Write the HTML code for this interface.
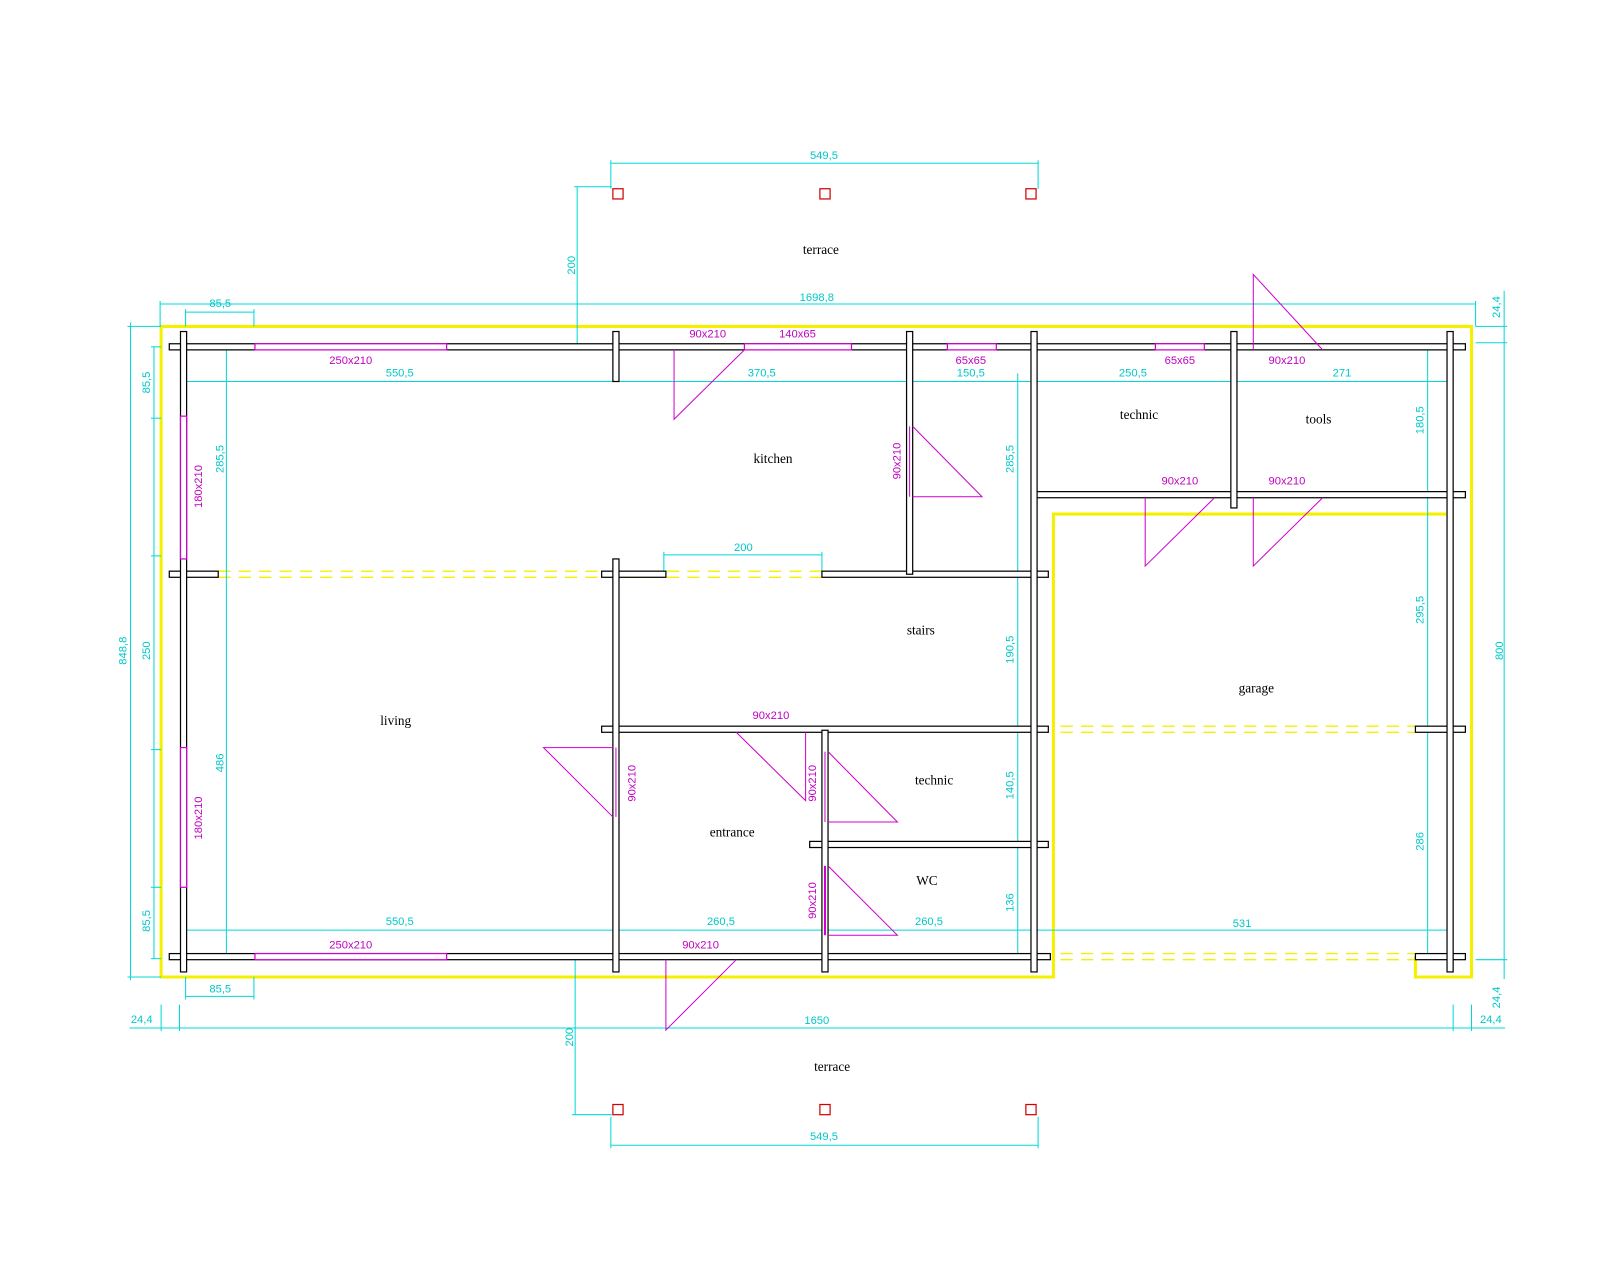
<!DOCTYPE html>
<html><head><meta charset="utf-8"><style>
html,body{margin:0;padding:0;background:#fff;}
svg{display:block;}
.w{fill:#fff;stroke:#000;stroke-width:1.2;}
.m{stroke:#d000d0;stroke-width:1;fill:none;}
.mw{fill:#fff;stroke:#d000d0;stroke-width:1.2;}
.c{stroke:#00d8d8;stroke-width:1;fill:none;}
.y{stroke:#f4f000;stroke-width:3;fill:none;}
.yd{stroke:#f4f000;stroke-width:1.3;stroke-dasharray:12,8;fill:none;}
.ct{fill:#00c8c8;font:11px "Liberation Sans",sans-serif;text-anchor:middle;}
.mt{fill:#c000c0;font:11px "Liberation Sans",sans-serif;text-anchor:middle;}
.rt{fill:#000;font:13px "Liberation Serif",serif;text-anchor:middle;}
.p{fill:#fff;stroke:#d00000;stroke-width:1.2;}
</style></head><body>
<svg width="1600" height="1280" viewBox="0 0 1569 1255" xmlns="http://www.w3.org/2000/svg">
<!-- yellow outline -->
<polyline class="y" points="1388,938 1388,958 1443,958 1443,320 158,320 158,958 1033,958 1033,504 1418,504"/>
<!-- dashed yellow -->
<line class="yd" x1="214" y1="560" x2="806" y2="560"/><line class="yd" x1="214" y1="566" x2="806" y2="566"/>
<line class="yd" x1="1040" y1="712" x2="1388" y2="712"/><line class="yd" x1="1040" y1="718" x2="1388" y2="718"/>
<line class="yd" x1="1040" y1="935" x2="1388" y2="935"/><line class="yd" x1="1040" y1="941" x2="1388" y2="941"/>
<!-- cyan dimensions -->
<g class="c">
<line x1="599" y1="160" x2="1018" y2="160"/><line x1="599" y1="157" x2="599" y2="185"/><line x1="1018" y1="157" x2="1018" y2="185"/>
<line x1="566" y1="183" x2="566" y2="340"/><line x1="563" y1="183" x2="600" y2="183"/>
<line x1="157" y1="298" x2="1447" y2="298"/><line x1="157" y1="295" x2="157" y2="320"/><line x1="1447" y1="295" x2="1447" y2="320"/>
<line x1="182" y1="306" x2="249" y2="306"/><line x1="182" y1="303" x2="182" y2="320"/><line x1="249" y1="303" x2="249" y2="320"/>
<line x1="1475" y1="285" x2="1475" y2="960"/><line x1="1447" y1="320" x2="1478" y2="320"/><line x1="1447" y1="336" x2="1478" y2="336"/><line x1="1447" y1="941" x2="1478" y2="941"/>
<line x1="183" y1="374" x2="1422" y2="374"/>
<line x1="128" y1="316" x2="128" y2="961"/><line x1="125" y1="320" x2="158" y2="320"/><line x1="125" y1="958" x2="158" y2="958"/>
<line x1="151" y1="340" x2="151" y2="940"/>
<line x1="148" y1="410" x2="158" y2="410"/><line x1="148" y1="545" x2="158" y2="545"/><line x1="148" y1="735" x2="158" y2="735"/><line x1="148" y1="870" x2="158" y2="870"/><line x1="148" y1="340" x2="158" y2="340"/><line x1="148" y1="940" x2="158" y2="940"/>
<line x1="222" y1="340" x2="222" y2="940"/>
<line x1="998" y1="366" x2="998" y2="940"/>
<line x1="1400" y1="340" x2="1400" y2="940"/>
<line x1="183" y1="912" x2="1419" y2="912"/>
<line x1="651" y1="544" x2="806" y2="544"/><line x1="651" y1="541" x2="651" y2="560"/><line x1="806" y1="541" x2="806" y2="560"/>
<line x1="182" y1="977" x2="249" y2="977"/><line x1="182" y1="958" x2="182" y2="980"/><line x1="249" y1="958" x2="249" y2="980"/>
<line x1="127" y1="1008" x2="1476" y2="1008"/><line x1="158" y1="985" x2="158" y2="1011"/><line x1="176" y1="985" x2="176" y2="1011"/><line x1="1425" y1="985" x2="1425" y2="1011"/><line x1="1443" y1="985" x2="1443" y2="1011"/>
<line x1="564" y1="940" x2="564" y2="1093"/><line x1="561" y1="1093" x2="600" y2="1093"/>
<line x1="599" y1="1123" x2="1018" y2="1123"/><line x1="599" y1="1095" x2="599" y2="1126"/><line x1="1018" y1="1095" x2="1018" y2="1126"/>
</g>
<g class="ct">
<text x="808" y="156">549,5</text>
<text x="801" y="295">1698,8</text>
<text x="216" y="301">85,5</text>
<text x="392" y="369">550,5</text><text x="747" y="369">370,5</text><text x="952" y="369">150,5</text><text x="1111" y="369">250,5</text><text x="1316" y="369">271</text>
<text x="729" y="540">200</text>
<text x="392" y="907">550,5</text><text x="707" y="907">260,5</text><text x="911" y="907">260,5</text><text x="1218" y="909">531</text>
<text x="216" y="973">85,5</text>
<text x="801" y="1004">1650</text><text x="139" y="1003">24,4</text><text x="1462" y="1003">24,4</text>
<text x="808" y="1118">549,5</text>
<text transform="translate(564,260) rotate(-90)">200</text>
<text transform="translate(562,1017) rotate(-90)">200</text>
<text transform="translate(1471,301) rotate(-90)">24,4</text>
<text transform="translate(1471,978) rotate(-90)">24,4</text>
<text transform="translate(124,638) rotate(-90)">848,8</text>
<text transform="translate(147,375) rotate(-90)">85,5</text>
<text transform="translate(147,638) rotate(-90)">250</text>
<text transform="translate(147,903) rotate(-90)">85,5</text>
<text transform="translate(219,450) rotate(-90)">285,5</text>
<text transform="translate(219,748) rotate(-90)">486</text>
<text transform="translate(994,450) rotate(-90)">285,5</text>
<text transform="translate(994,637) rotate(-90)">190,5</text>
<text transform="translate(994,770) rotate(-90)">140,5</text>
<text transform="translate(994,885) rotate(-90)">136</text>
<text transform="translate(1396,412) rotate(-90)">180,5</text>
<text transform="translate(1396,598) rotate(-90)">295,5</text>
<text transform="translate(1396,825) rotate(-90)">286</text>
<text transform="translate(1474,638) rotate(-90)">800</text>
</g>
<!-- walls -->
<g class="w">
<rect x="166" y="337" width="1271" height="6"/>
<rect x="166" y="935" width="864" height="6"/>
<rect x="1388" y="935" width="49" height="6"/>
<rect x="166" y="560" width="48" height="6"/>
<rect x="590" y="560" width="63" height="6"/>
<rect x="806" y="560" width="222" height="6"/>
<rect x="590" y="712" width="438" height="6"/>
<rect x="1388" y="712" width="49" height="6"/>
<rect x="1014" y="482" width="423" height="6"/>
<rect x="794" y="825" width="234" height="6"/>
<rect x="177" y="325" width="6" height="628"/>
<rect x="1419" y="325" width="6" height="628"/>
<rect x="601" y="325" width="6" height="49"/>
<rect x="601" y="548" width="6" height="405"/>
<rect x="889" y="325" width="6" height="238"/>
<rect x="1011" y="325" width="6" height="628"/>
<rect x="1207" y="325" width="6" height="173"/>
<rect x="806" y="716" width="6" height="237"/>
</g>
<!-- windows -->
<g class="mw">
<rect x="250" y="337" width="188" height="6"/><rect x="730" y="337" width="105" height="6"/>
<rect x="929" y="337" width="48" height="6"/><rect x="1133" y="337" width="48" height="6"/>
<rect x="250" y="935" width="188" height="6"/>
<rect x="177" y="408" width="6" height="140"/><rect x="177" y="733" width="6" height="137"/>
</g>
<!-- doors -->
<g class="m">
<polyline points="661,343 661,411 730,343"/>
<polyline points="1229,343 1229,269 1297,343"/>
<polyline points="895,418 963,487 895,487"/>
<polyline points="1123,488 1123,555 1191,488"/>
<polyline points="1229,488 1229,555 1297,488"/>
<polyline points="601,733 533,733 601,801"/>
<polyline points="722,718 790,785 790,718"/>
<polyline points="812,737 880,806 812,806"/>
<polyline points="812,849 880,917 812,917"/>
<polyline points="653,941 653,1010 722,941"/>
<line x1="892" y1="418" x2="892" y2="487"/>
<line x1="809" y1="737" x2="809" y2="806"/>
<line x1="809" y1="849" x2="809" y2="917" stroke-width="2"/>
<line x1="604" y1="733" x2="604" y2="801"/>
</g>
<g class="mt">
<text x="344" y="357">250x210</text><text x="694" y="331">90x210</text><text x="782" y="331">140x65</text>
<text x="952" y="357">65x65</text><text x="1157" y="357">65x65</text><text x="1262" y="357">90x210</text>
<text x="1157" y="475">90x210</text><text x="1262" y="475">90x210</text>
<text x="756" y="705">90x210</text>
<text x="344" y="930">250x210</text><text x="687" y="930">90x210</text>
<text transform="translate(198,477) rotate(-90)">180x210</text>
<text transform="translate(198,802) rotate(-90)">180x210</text>
<text transform="translate(883,452) rotate(-90)">90x210</text>
<text transform="translate(623,768) rotate(-90)">90x210</text>
<text transform="translate(800,768) rotate(-90)">90x210</text>
<text transform="translate(800,883) rotate(-90)">90x210</text>
</g>
<!-- pillars -->
<g class="p">
<rect x="601" y="185" width="10" height="10"/><rect x="804" y="185" width="10" height="10"/><rect x="1006" y="185" width="10" height="10"/>
<rect x="601" y="1083" width="10" height="10"/><rect x="804" y="1083" width="10" height="10"/><rect x="1006" y="1083" width="10" height="10"/>
</g>
<g class="rt">
<text x="805" y="249">terrace</text>
<text x="816" y="1050">terrace</text>
<text x="758" y="454">kitchen</text>
<text x="1117" y="411">technic</text>
<text x="1293" y="415">tools</text>
<text x="903" y="622">stairs</text>
<text x="388" y="711">living</text>
<text x="1232" y="679">garage</text>
<text x="916" y="769">technic</text>
<text x="718" y="820">entrance</text>
<text x="909" y="868">WC</text>
</g>
</svg>
</body></html>
